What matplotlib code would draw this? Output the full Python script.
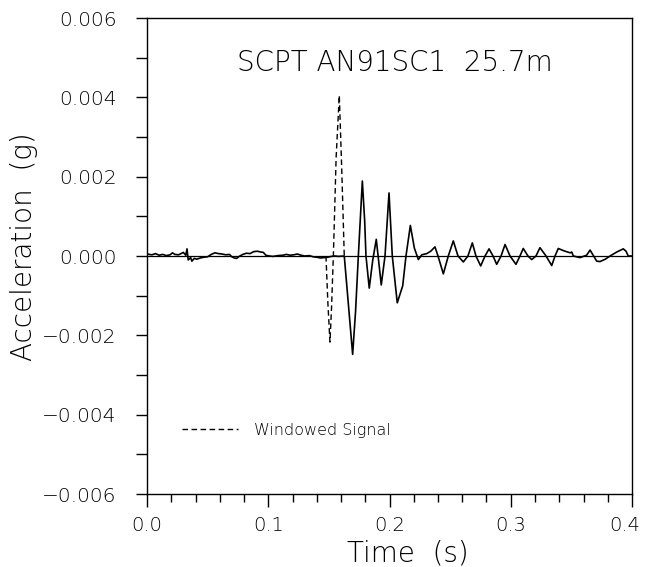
import matplotlib
matplotlib.use("Agg")
import matplotlib.pyplot as plt
from matplotlib.ticker import MultipleLocator, FuncFormatter, FormatStrFormatter
from matplotlib.transforms import ScaledTranslation

plt.rcParams['font.family'] = ['DejaVu Sans']
plt.rcParams['font.weight'] = 'light'
plt.rcParams['axes.labelweight'] = 'light'

# ---- data ----
time_s = [0.000, 0.004, 0.007, 0.010, 0.013, 0.016, 0.019, 0.021, 0.023, 0.026,
          0.028, 0.030, 0.032, 0.033, 0.034, 0.036, 0.037, 0.039, 0.041, 0.044,
          0.047, 0.050, 0.053, 0.056, 0.059, 0.062, 0.065, 0.068, 0.070, 0.072,
          0.074, 0.076, 0.079, 0.082, 0.085, 0.088, 0.091, 0.094, 0.096, 0.098,
          0.101, 0.104, 0.108, 0.112, 0.115, 0.118, 0.121, 0.124, 0.127, 0.130,
          0.134, 0.137, 0.140, 0.143, 0.146, 0.149, 0.152, 0.155, 0.158, 0.1627,
          0.1660, 0.1696, 0.1720, 0.1743, 0.1776, 0.1795, 0.1806, 0.1833, 0.1862, 0.1891,
          0.1932, 0.1963, 0.1996, 0.2023, 0.2064, 0.2109, 0.2136, 0.2172, 0.2205, 0.2238,
          0.2266, 0.2307, 0.2340, 0.2375, 0.2400, 0.2444, 0.2485, 0.2526, 0.2565, 0.2609,
          0.2647, 0.2683, 0.2713, 0.2752, 0.2788, 0.2821, 0.2854, 0.2884, 0.2920, 0.2953,
          0.2994, 0.3043, 0.3076, 0.3103, 0.3142, 0.3173, 0.3208, 0.3241, 0.3291, 0.3338,
          0.3365, 0.3392, 0.3439, 0.3490, 0.3503, 0.3516, 0.3571, 0.3626, 0.3654, 0.3709,
          0.3736, 0.3780, 0.3819, 0.3874, 0.3928, 0.3951, 0.3969, 0.4000]
accel_g = [0.00005, 0.00003, 0.00006, 0.00002, 0.00004, 0.00001, 0.00003, 0.00008, 0.00004, 0.00003,
           0.00006, 0.00009, 0.00002, 0.00018, -0.00010, -0.00004, -0.00013, -0.00006, -0.00008, -0.00005,
           -0.00003, -0.00002, 0.00004, 0.00008, 0.00006, 0.00005, 0.00003, 0.00004, -0.00002, -0.00005,
           -0.00006, -0.00001, 0.00004, 0.00007, 0.00006, 0.00011, 0.00012, 0.00010, 0.00009, 0.00002,
           0.00000, -0.00001, 0.00001, 0.00002, 0.00004, 0.00002, 0.00003, 0.00005, 0.00002, 0.00000,
           0.00001, -0.00002, -0.00003, -0.00005, -0.00004, -0.00003, -0.00001, 0.00000, -0.00001, 0.0,
           -0.00120, -0.00248, -0.00140, 0.0, 0.00189, 0.00090, 0.0, -0.00081, -0.00010, 0.00042,
           -0.00073, 0.0, 0.00159, 0.0, -0.00118, -0.00075, 0.0, 0.00077, 0.00020, -0.00009,
           0.00003, 0.00006, 0.00012, 0.00023, 0.0, -0.00045, 0.0, 0.00038, 0.0, -0.00015,
           0.0, 0.00033, 0.0, -0.00025, 0.0, 0.00018, 0.0, -0.00021, 0.0, 0.00029,
           0.0, -0.00021, 0.0, 0.00019, 0.0, -0.00009, 0.0, 0.00021, 0.0, -0.00024,
           0.0, 0.00019, 0.00013, 0.00008, 0.00010, 0.0, -0.00004, 0.00002, 0.00015, -0.00013,
           -0.00014, -0.00008, 0.0, 0.00010, 0.00018, 0.00012, 0.0, 0.0]

window_time_s = [0.1476, 0.1492, 0.1509, 0.1522, 0.1537, 0.1560, 0.1586, 0.1606, 0.1627]
window_accel_g = [0.0, -0.00120, -0.00217, -0.00130, 0.0, 0.00250, 0.00405, 0.00220, 0.0]

x_ticks = [0.0, 0.1, 0.2, 0.3, 0.4]
y_ticks = [-0.006, -0.004, -0.002, 0.000, 0.002, 0.004, 0.006]
title_text = "SCPT AN91SC1  25.7m"
legend_label = "Windowed Signal"

# ---- figure ----
fig = plt.figure(figsize=(6.45, 5.67), dpi=100)
ax = fig.add_axes([147/645, 1-494/567, 485/645, 476/567])

ax.axhline(0.0, color='black', lw=0.9, zorder=1)
ax.plot(time_s, accel_g, color='black', lw=1.2, zorder=3)
ax.plot(window_time_s, window_accel_g, color='black', lw=1.0,
        linestyle=(0, (4, 2.5)), zorder=2, label=legend_label)

ax.set_xlim(0.0, 0.4)
ax.set_ylim(-0.006, 0.006)
ax.set_xticks(x_ticks)
ax.set_yticks(y_ticks)
ax.xaxis.set_major_formatter(FormatStrFormatter('%.1f'))
ax.yaxis.set_major_formatter(FuncFormatter(lambda v, p: f"{v:.3f}".replace('-', '\u2212')
                                           if abs(v) > 1e-9 else "0.000"))
ax.xaxis.set_minor_locator(MultipleLocator(0.02))
ax.yaxis.set_minor_locator(MultipleLocator(0.001))
ax.tick_params(axis='x', which='major', direction='out', length=9, width=1, labelsize=14, pad=7,
               labelcolor='black')
ax.tick_params(axis='x', which='minor', direction='out', length=6, width=1)
ax.tick_params(axis='y', which='both', direction='out', length=8, width=1, labelsize=14.5, pad=14,
               labelcolor='black')
ax.tick_params(top=False, right=False, which='both')
for s in ax.spines.values():
    s.set_linewidth(1.0)

# keep the last x tick label inside the figure, as in the reference
last = ax.get_xticklabels()[-1]
last.set_transform(last.get_transform() + ScaledTranslation(-0.07, 0, fig.dpi_scale_trans))

ax.set_xlabel("Time  (s)", fontsize=20, fontweight='light')
ax.xaxis.set_label_coords(0.538, -0.095)
ax.set_ylabel("Acceleration  (g)", fontsize=20, fontweight='light')
ax.yaxis.set_label_coords(-0.225, 0.52)

ax.text(0.186, 0.905, title_text, transform=ax.transAxes, fontsize=20,
        ha='left', va='center', fontweight='light')

ax.legend(loc='center left', bbox_to_anchor=(0.072, 0.134), frameon=False,
          fontsize=11.5, handlelength=3.5, handletextpad=1.0, borderpad=0,
          borderaxespad=0)

fig.savefig("out.png", dpi=100)
